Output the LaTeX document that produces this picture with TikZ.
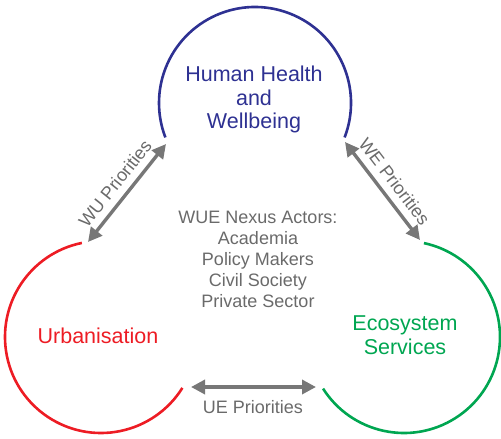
\documentclass[tikz,border=0pt]{standalone}
\usepackage{fontspec}
\setmainfont{Liberation Sans}
\usetikzlibrary{arrows.meta,calc}
\definecolor{hhblue}{HTML}{2E3192}
\definecolor{urbred}{HTML}{ED1C24}
\definecolor{ecogreen}{HTML}{00A651}
\definecolor{txtgray}{HTML}{6A6A6A}
\definecolor{arrgray}{HTML}{777777}
\tikzset{
  ring/.style={line width=2.6pt},
  biglabel/.style={inner sep=0pt, align=center, font=\fontsize{21.5}{23.8}\selectfont},
  smalllabel/.style={inner sep=0pt, text=txtgray, font=\fontsize{18}{21}\selectfont},
  linkarrow/.style={arrgray, line width=3.4pt,
    {Triangle[length=14pt,width=14pt]}-{Triangle[length=14pt,width=14pt]}},
}
\begin{document}
\begin{tikzpicture}[x=1pt,y=1pt]
\useasboundingbox (0,0) rectangle (501,-439);

% circle centres
\coordinate (chh) at (255,-103);
\coordinate (curb) at (101,-337);
\coordinate (ceco) at (404,-337);

% open rings
\draw[ring, hhblue]   ($(chh)+(-21:96)$) arc[start angle=-21, end angle=201, radius=96];
\draw[ring, urbred]   ($(curb)+(101.5:96)$) arc[start angle=101.5, end angle=328, radius=96];
\draw[ring, ecogreen] ($(ceco)+(212.5:96)$) arc[start angle=212.5, end angle=438, radius=96];

% ring titles
\node[biglabel, text=hhblue] (hh) at (254,-99.5) {Human Health\\and\\Wellbeing};
\node[biglabel, text=urbred, anchor=base] (urb) at (98,-343) {Urbanisation};
\node[biglabel, text=ecogreen] (eco) at (405,-335) {Ecosystem\\Services};

% actors in the middle
\node[smalllabel, align=center] (actors) at (258,-259)
  {WUE Nexus Actors:\\Academia\\Policy Makers\\Civil Society\\Private Sector};

% arrow end points
\coordinate (wua) at (88,-242);
\coordinate (wub) at (166,-144);
\coordinate (wea) at (345,-142);
\coordinate (web) at (420,-240);
\coordinate (uea) at (191,-387);
\coordinate (ueb) at (316,-387);

% priority links
\draw[linkarrow] (wua) -- node[smalllabel, midway, sloped, above=7pt] (wu) {WU Priorities} (wub);
\draw[linkarrow] (wea) -- node[smalllabel, midway, sloped, above=7pt] (we) {WE Priorities} (web);
\draw[linkarrow] (uea) -- (ueb);
\node[smalllabel, anchor=base] (ue) at (253,-413) {UE Priorities};
\end{tikzpicture}
\end{document}
